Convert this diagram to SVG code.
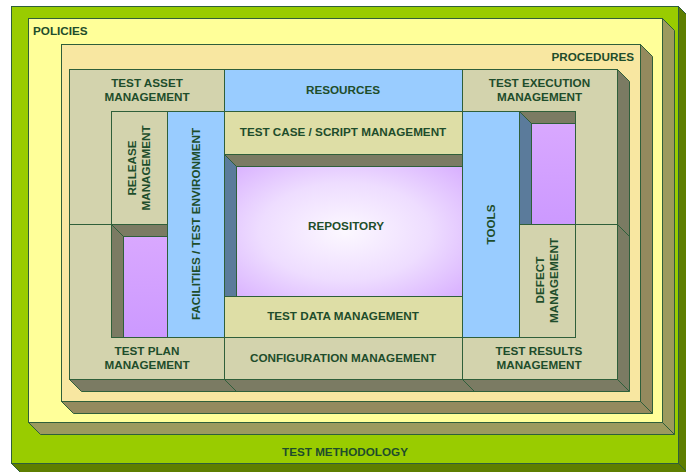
<svg xmlns="http://www.w3.org/2000/svg" width="686" height="472" viewBox="0 0 686 472">
<defs>
<style>
.b{stroke:#2F5F3A;stroke-width:1}
.ex{stroke:#2F5F3A;stroke-width:1;stroke-linejoin:round}
.cell{fill:#D3D3AD;stroke:#2F5F3A;stroke-width:1}
.blue{fill:#99CCFF;stroke:#2F5F3A;stroke-width:1}
.yel{fill:#DEDEA6;stroke:#2F5F3A;stroke-width:1}
.gray{fill:#7B7B63;stroke:#2F5F3A;stroke-width:1}
.bg{fill:#5B7B9B;stroke:#2F5F3A;stroke-width:1}
.t{font-family:"Liberation Sans",Arial,sans-serif;font-weight:bold;font-size:11.7px;fill:#1E4D2B;text-anchor:middle}
</style>
<radialGradient id="repo" cx="0.48" cy="0.5" r="0.75">
<stop offset="0" stop-color="#FCF8FF"/>
<stop offset="0.5" stop-color="#EEDDFF"/>
<stop offset="1" stop-color="#D6ABFF"/>
</radialGradient>
<linearGradient id="purp" x1="0" y1="0" x2="0" y2="1">
<stop offset="0" stop-color="#D9A8FF"/>
<stop offset="1" stop-color="#CC99FF"/>
</linearGradient>
</defs>

<g id="methodology">
<path class="ex" fill="#5E7E00" d="M678.5,6.5 L687.5,15.5 L687.5,472.5 L20.5,472.5 L11.5,463.5 L678.5,463.5 Z"/>
<path class="b" fill="none" d="M678.5,463.5 L687.5,472.5"/>
<rect class="b" x="11.5" y="6.5" width="667" height="457" fill="#99CC00"/>
<text class="t" x="345" y="456">TEST METHODOLOGY</text>
</g>

<g id="policies">
<path class="ex" fill="#9C9A5E" d="M662.5,18.5 L674.5,30.5 L674.5,434.5 L40.5,434.5 L28.5,422.5 L662.5,422.5 Z"/>
<path class="b" fill="none" d="M662.5,422.5 L674.5,434.5"/>
<rect class="b" x="28.5" y="18.5" width="634" height="404" fill="#FFFF99"/>
<text class="t" x="33" y="35" style="text-anchor:start">POLICIES</text>
</g>

<g id="procedures">
<path class="ex" fill="#948A5E" d="M640.5,44.5 L652.5,56.5 L652.5,413.5 L73.5,413.5 L61.5,401.5 L640.5,401.5 Z"/>
<path class="b" fill="none" d="M640.5,401.5 L652.5,413.5"/>
<rect class="b" x="61.5" y="44.5" width="579" height="357" fill="#F8E7A1"/>
<text class="t" x="634" y="61" style="text-anchor:end">PROCEDURES</text>
</g>

<g id="grid-extrusion">
<path class="ex" fill="#7B7B63" d="M617.5,69.5 L629.5,81.5 L629.5,391.5 L81.5,391.5 L69.5,379.5 L617.5,379.5 Z"/>
<path class="b" fill="none" d="M617.5,379.5 L629.5,391.5 M224.5,379.5 L236.5,391.5 M462.5,379.5 L474.5,391.5 M617.5,224.5 L629.5,236.5"/>
</g>

<g id="test-asset-management">
<rect class="cell" x="69.5" y="69.5" width="155" height="155"/>
<text class="t" x="147" y="86.5">TEST ASSET</text>
<text class="t" x="147" y="100.5">MANAGEMENT</text>
</g>
<g id="test-plan-management">
<rect class="cell" x="69.5" y="224.5" width="155" height="155"/>
<text class="t" x="147" y="355">TEST PLAN</text>
<text class="t" x="147" y="368.5">MANAGEMENT</text>
</g>
<g id="test-execution-management">
<rect class="cell" x="462.5" y="69.5" width="155" height="155"/>
<text class="t" x="539.5" y="86.5">TEST EXECUTION</text>
<text class="t" x="539.5" y="100.5">MANAGEMENT</text>
</g>
<g id="test-results-management">
<rect class="cell" x="462.5" y="224.5" width="155" height="155"/>
<text class="t" x="539" y="355">TEST RESULTS</text>
<text class="t" x="539" y="368.5">MANAGEMENT</text>
</g>
<g id="resources">
<rect class="blue" x="224.5" y="69.5" width="238" height="42"/>
<text class="t" x="343" y="94">RESOURCES</text>
</g>
<g id="configuration-management">
<rect class="cell" x="224.5" y="337.5" width="238" height="42"/>
<text class="t" x="343" y="361.5">CONFIGURATION MANAGEMENT</text>
</g>
<g id="release-management">
<rect class="cell" x="111.5" y="111.5" width="56" height="113"/>
<text class="t" transform="translate(136,168) rotate(-90)">RELEASE</text>
<text class="t" transform="translate(150,168) rotate(-90)">MANAGEMENT</text>
</g>
<g id="left-well">
<rect class="gray" x="111.5" y="224.5" width="56" height="113"/>
<path class="gray" d="M111.5,224.5 L123.5,236.5 L123.5,337.5 L111.5,337.5 Z"/>
<rect class="b" x="123.5" y="236.5" width="44" height="101" fill="url(#purp)"/>
</g>
<g id="facilities">
<rect class="blue" x="167.5" y="111.5" width="57" height="226"/>
<text class="t" transform="translate(200,224) rotate(-90)">FACILITIES / TEST ENVIRONMENT</text>
</g>
<g id="test-case-management">
<rect class="yel" x="224.5" y="111.5" width="238" height="43"/>
<text class="t" x="343" y="136">TEST CASE / SCRIPT MANAGEMENT</text>
</g>
<g id="repository">
<rect class="gray" x="224.5" y="154.5" width="238" height="142"/>
<path class="bg" d="M224.5,154.5 L236.5,166.5 L236.5,296.5 L224.5,296.5 Z"/>
<rect class="b" x="236.5" y="166.5" width="226" height="130" fill="url(#repo)"/>
<text class="t" x="346" y="229.5">REPOSITORY</text>
</g>
<g id="test-data-management">
<rect class="yel" x="224.5" y="296.5" width="238" height="41"/>
<text class="t" x="343" y="320">TEST DATA MANAGEMENT</text>
</g>
<g id="tools">
<rect class="blue" x="462.5" y="111.5" width="57" height="226"/>
<text class="t" transform="translate(495,224.5) rotate(-90)">TOOLS</text>
</g>
<g id="right-well">
<rect class="gray" x="519.5" y="111.5" width="56" height="113"/>
<path class="bg" d="M519.5,111.5 L531.5,123.5 L531.5,224.5 L519.5,224.5 Z"/>
<rect class="b" x="531.5" y="123.5" width="44" height="101" fill="url(#purp)"/>
</g>
<g id="defect-management">
<rect class="cell" x="519.5" y="224.5" width="56" height="113"/>
<text class="t" transform="translate(544,280) rotate(-90)">DEFECT</text>
<text class="t" transform="translate(558,280.5) rotate(-90)">MANAGEMENT</text>
</g>
<g id="connectors"></g>
</svg>
